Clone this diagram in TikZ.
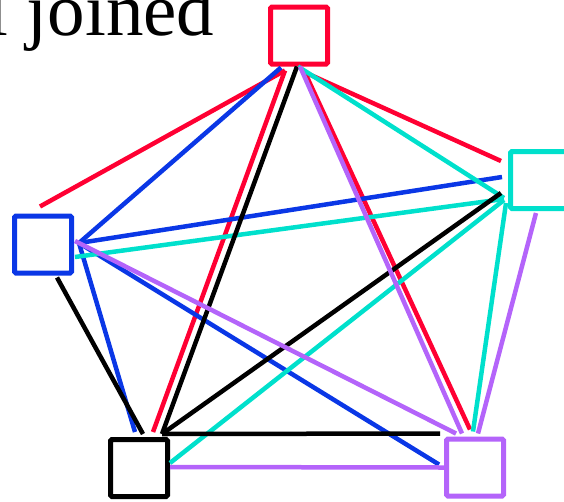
\documentclass[tikz,border=0pt]{standalone}
\usepackage{fontspec}
\setmainfont{Liberation Serif}
\usetikzlibrary{calc}
\definecolor{redsq}{RGB}{255,0,51}
\definecolor{bluesq}{RGB}{10,55,230}
\definecolor{cyansq}{RGB}{0,224,204}
\definecolor{purplesq}{RGB}{180,100,250}

\begin{document}
\begin{tikzpicture}[x=1pt,y=-1pt,
    box/.style={draw,line width=5pt,minimum size=57pt,inner sep=0pt,rounded corners=1.5pt},
    link/.style={line width=4.5pt},
]
    \useasboundingbox (0,0) rectangle (564,501);
    \node [anchor=base west,inner sep=0pt,font=\fontsize{75}{75}\selectfont] (title) at (-13,35) {l joined};

    \node [box,redsq] (red) at (299,35.5) {};
    \node [box,bluesq] (blue) at (43,244.5) {};
    \node [box,cyansq] (cyan) at (539,180) {};
    \node [box,black] (blk) at (139,468) {};
    \node [box,purplesq] (purple) at (475,467.5) {};

    % red square
    \draw [link,redsq] ($(red.south)+(-14,4)$) -- ($(blue.north)+(-3,-7)$);
    \draw [link,redsq] ($(red.south)+(-14,4)$) -- ($(blk.north)+(14,-5)$);
    \draw [link,redsq] ($(red.south)+(5,4)$) -- ($(purple.north)+(-5,-7)$);
    \draw [link,redsq] ($(red.south)+(4,5)$) -- ($(cyan.west)+(-7,-19)$);

    % blue square
    \draw [link,bluesq] ($(blue.east)+(5,-1.5)$) -- ($(red.south)+(-18,1)$);
    \draw [link,bluesq] ($(blue.east)+(5,-1.5)$) -- ($(cyan.west)+(-6,-3)$);
    \draw [link,bluesq] ($(blue.east)+(5,-1.5)$) -- ($(blk.north)+(-4,-5)$);
    \draw [link,bluesq] ($(blue.east)+(5,-1.5)$) -- ($(purple.west)+(-5,-3)$);

    % cyan square
    \draw [link,cyansq] ($(cyan.west)+(-4,18)$) -- ($(red.south)+(-1,0)$);
    \draw [link,cyansq] ($(cyan.west)+(-4,19)$) -- ($(blue.east)+(1,12.5)$);
    \draw [link,cyansq] ($(cyan.west)+(-4,20)$) -- ($(blk.east)+(0,-5)$);
    \draw [link,cyansq] ($(cyan.west)+(-2,23)$) -- ($(purple.north)+(-2,-5)$);

    % black square
    \draw [link,black] ($(blk.north)+(23,-3)$) -- ($(red.south)+(-2,0)$);
    \draw [link,black] ($(blk.north)+(4,-3)$) -- ($(blue.south)+(14,2)$);
    \draw [link,black] ($(blk.north)+(23,-3)$) -- ($(cyan.west)+(-7,13)$);
    \draw [link,black] ($(blk.north)+(23,-3)$) -- ($(purple.north)+(-35,-3)$);

    % purple square
    \draw [link,purplesq] ($(purple.north)+(-13,-3)$) -- ($(red.south)+(1,0)$);
    \draw [link,purplesq] ($(purple.north)+(-19,-3)$) -- ($(blue.east)+(1,-3.5)$);
    \draw [link,purplesq] ($(purple.west)+(0,0)$) -- ($(blk.east)+(0,-1)$);
    \draw [link,purplesq] ($(purple.north)+(3,-3)$) -- ($(cyan.south)+(-3,2)$);
\end{tikzpicture}
\end{document}
